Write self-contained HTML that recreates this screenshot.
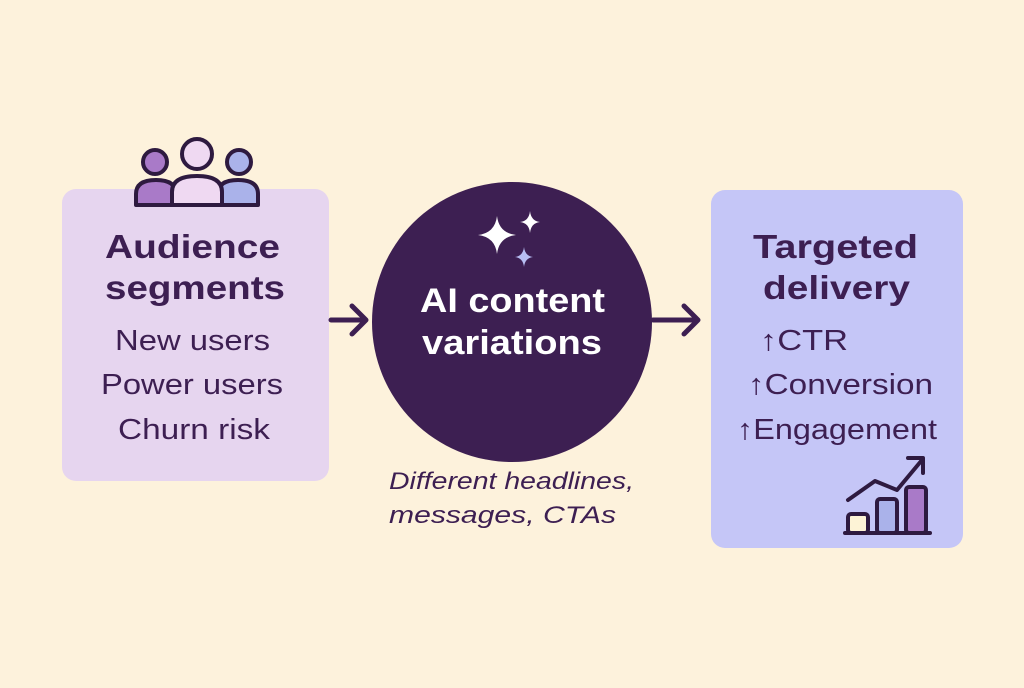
<!DOCTYPE html>
<html><head><style>body{margin:0;background:#fdf2dc}</style></head><body>
<svg width="1024" height="683" viewBox="0 0 1024 683" xmlns="http://www.w3.org/2000/svg" font-family="Liberation Sans, sans-serif">
<rect width="1024" height="683" fill="#fdf2dc"/>
<rect x="62" y="189" width="267" height="292" rx="14" fill="#e6d5ef"/>
<rect x="711" y="190" width="252" height="358" rx="14" fill="#c5c6f7"/>
<circle cx="512" cy="322" r="140" fill="#3d1f52"/>
<g stroke="#3d1f52" stroke-width="5" fill="none" stroke-linecap="round" stroke-linejoin="round">
<path d="M331 320H366M352 306L366 320L352 334"/>
<path d="M653 320H698M684 306L698 320L684 334"/>
</g>
<g stroke="#2e1a40" stroke-width="4" stroke-linejoin="round">
<path d="M136 205V194Q136 180 156 180Q176 180 176 194V205Z" fill="#a97ac8"/>
<path d="M218 205V194Q218 180 238 180Q258 180 258 194V205Z" fill="#aab2ea"/>
<circle cx="155" cy="162" r="12" fill="#a97ac8"/>
<circle cx="239" cy="162" r="12" fill="#aab2ea"/>
<path d="M172 205V192Q172 176 197 176Q222 176 222 192V205Z" fill="#efd9f2"/>
<circle cx="197" cy="154" r="15" fill="#efd9f2"/>
</g>
<g fill="#3d1f52" font-weight="bold" font-size="33" lengthAdjust="spacingAndGlyphs">
<text x="105" y="258" textLength="175" lengthAdjust="spacingAndGlyphs">Audience</text>
<text x="105" y="299" textLength="180" lengthAdjust="spacingAndGlyphs">segments</text>
<text x="753" y="258" textLength="165" lengthAdjust="spacingAndGlyphs">Targeted</text>
<text x="763" y="299" textLength="147" lengthAdjust="spacingAndGlyphs">delivery</text>
</g>
<g fill="#3d1f52" font-size="29">
<text x="115" y="350" textLength="155" lengthAdjust="spacingAndGlyphs">New users</text>
<text x="101" y="394" textLength="182" lengthAdjust="spacingAndGlyphs">Power users</text>
<text x="118" y="439" textLength="152" lengthAdjust="spacingAndGlyphs">Churn risk</text>
<text x="760" y="350" textLength="88" lengthAdjust="spacingAndGlyphs">↑CTR</text>
<text x="748" y="394" textLength="185" lengthAdjust="spacingAndGlyphs">↑Conversion</text>
<text x="737" y="439" textLength="200" lengthAdjust="spacingAndGlyphs">↑Engagement</text>
</g>
<g fill="#fff" font-weight="bold" font-size="34">
<text x="420" y="312" textLength="185" lengthAdjust="spacingAndGlyphs">AI content</text>
<text x="422" y="354" textLength="180" lengthAdjust="spacingAndGlyphs">variations</text>
</g>
<g fill="#3d1f52" font-style="italic" font-size="24">
<text x="389" y="489" textLength="245" lengthAdjust="spacingAndGlyphs">Different headlines,</text>
<text x="389" y="523" textLength="227" lengthAdjust="spacingAndGlyphs">messages, CTAs</text>
</g>
<path d="M497 216Q499 233 516 235Q499 237 497 254Q495 237 478 235Q495 233 497 216Z" fill="#fff"/>
<path d="M530 211Q531 221 540 222Q531 223 530 233Q529 223 520 222Q529 221 530 211Z" fill="#fff"/>
<path d="M524 247Q525 256 533 257Q525 258 524 267Q523 258 515 257Q523 256 524 247Z" fill="#b7bdf2"/>
<g stroke="#2e1a40" stroke-width="4" stroke-linejoin="round" stroke-linecap="round">
<rect x="848" y="514" width="20" height="19" rx="3" fill="#fdf3d6"/>
<rect x="877" y="499" width="20" height="34" rx="3" fill="#aab2ea"/>
<rect x="906" y="487" width="20" height="46" rx="3" fill="#a97ac8"/>
<path d="M845 533H930" fill="none"/>
<path d="M848 500L875 481L897 490L922 460M908 458H923V473" fill="none"/>
</g>
</svg>
</body></html>
